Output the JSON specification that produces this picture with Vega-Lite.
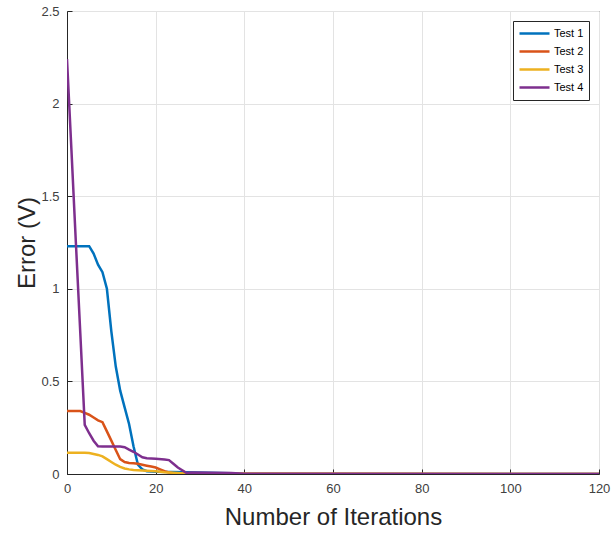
{
  "$schema": "https://vega.github.io/schema/vega-lite/v6.json",
  "width": 532,
  "height": 463,
  "autosize": {"type": "none"},
  "padding": {"left": 67, "top": 11, "right": 12, "bottom": 62},
  "background": "white",
  "config": {
    "font": "Liberation Sans",
    "view": {"stroke": "#262626", "strokeWidth": 1},
    "axis": {
      "domainColor": "#262626",
      "tickColor": "#262626",
      "gridColor": "#e3e3e3",
      "gridWidth": 1,
      "labelColor": "#404040",
      "labelFontSize": 13,
      "titleColor": "#262626",
      "titleFontSize": 24,
      "titleFontWeight": "normal",
      "tickSize": -5,
      "labelFlush": false,
      "labelOverlap": false
    }
  },
  "data": {
    "values": [
      {"iter": 0, "err": 1.23, "test": "Test 1"},
      {"iter": 1, "err": 1.23, "test": "Test 1"},
      {"iter": 2, "err": 1.23, "test": "Test 1"},
      {"iter": 3, "err": 1.23, "test": "Test 1"},
      {"iter": 4, "err": 1.23, "test": "Test 1"},
      {"iter": 5, "err": 1.23, "test": "Test 1"},
      {"iter": 6, "err": 1.19, "test": "Test 1"},
      {"iter": 7, "err": 1.13, "test": "Test 1"},
      {"iter": 8, "err": 1.09, "test": "Test 1"},
      {"iter": 9, "err": 1.0, "test": "Test 1"},
      {"iter": 10, "err": 0.77, "test": "Test 1"},
      {"iter": 11, "err": 0.58, "test": "Test 1"},
      {"iter": 12, "err": 0.45, "test": "Test 1"},
      {"iter": 13, "err": 0.36, "test": "Test 1"},
      {"iter": 14, "err": 0.27, "test": "Test 1"},
      {"iter": 15, "err": 0.15, "test": "Test 1"},
      {"iter": 16, "err": 0.05, "test": "Test 1"},
      {"iter": 17, "err": 0.025, "test": "Test 1"},
      {"iter": 18, "err": 0.015, "test": "Test 1"},
      {"iter": 20, "err": 0.012, "test": "Test 1"},
      {"iter": 27, "err": 0.01, "test": "Test 1"},
      {"iter": 37, "err": 0.004, "test": "Test 1"},
      {"iter": 40, "err": 0.0, "test": "Test 1"},
      {"iter": 120, "err": 0.0, "test": "Test 1"},

      {"iter": 0, "err": 0.34, "test": "Test 2"},
      {"iter": 1, "err": 0.34, "test": "Test 2"},
      {"iter": 2, "err": 0.34, "test": "Test 2"},
      {"iter": 3, "err": 0.34, "test": "Test 2"},
      {"iter": 4, "err": 0.33, "test": "Test 2"},
      {"iter": 5, "err": 0.32, "test": "Test 2"},
      {"iter": 6, "err": 0.305, "test": "Test 2"},
      {"iter": 7, "err": 0.29, "test": "Test 2"},
      {"iter": 8, "err": 0.28, "test": "Test 2"},
      {"iter": 9, "err": 0.23, "test": "Test 2"},
      {"iter": 10, "err": 0.18, "test": "Test 2"},
      {"iter": 11, "err": 0.13, "test": "Test 2"},
      {"iter": 12, "err": 0.08, "test": "Test 2"},
      {"iter": 13, "err": 0.065, "test": "Test 2"},
      {"iter": 14, "err": 0.06, "test": "Test 2"},
      {"iter": 15, "err": 0.058, "test": "Test 2"},
      {"iter": 16, "err": 0.055, "test": "Test 2"},
      {"iter": 17, "err": 0.05, "test": "Test 2"},
      {"iter": 18, "err": 0.045, "test": "Test 2"},
      {"iter": 19, "err": 0.04, "test": "Test 2"},
      {"iter": 20, "err": 0.035, "test": "Test 2"},
      {"iter": 21, "err": 0.025, "test": "Test 2"},
      {"iter": 22, "err": 0.015, "test": "Test 2"},
      {"iter": 23, "err": 0.008, "test": "Test 2"},
      {"iter": 24, "err": 0.004, "test": "Test 2"},
      {"iter": 26, "err": 0.001, "test": "Test 2"},
      {"iter": 120, "err": 0.0, "test": "Test 2"},

      {"iter": 0, "err": 0.115, "test": "Test 3"},
      {"iter": 1, "err": 0.115, "test": "Test 3"},
      {"iter": 2, "err": 0.115, "test": "Test 3"},
      {"iter": 3, "err": 0.115, "test": "Test 3"},
      {"iter": 4, "err": 0.115, "test": "Test 3"},
      {"iter": 5, "err": 0.113, "test": "Test 3"},
      {"iter": 6, "err": 0.108, "test": "Test 3"},
      {"iter": 7, "err": 0.103, "test": "Test 3"},
      {"iter": 8, "err": 0.095, "test": "Test 3"},
      {"iter": 9, "err": 0.08, "test": "Test 3"},
      {"iter": 10, "err": 0.065, "test": "Test 3"},
      {"iter": 11, "err": 0.05, "test": "Test 3"},
      {"iter": 12, "err": 0.038, "test": "Test 3"},
      {"iter": 13, "err": 0.03, "test": "Test 3"},
      {"iter": 14, "err": 0.025, "test": "Test 3"},
      {"iter": 15, "err": 0.022, "test": "Test 3"},
      {"iter": 16, "err": 0.02, "test": "Test 3"},
      {"iter": 18, "err": 0.017, "test": "Test 3"},
      {"iter": 20, "err": 0.015, "test": "Test 3"},
      {"iter": 22, "err": 0.01, "test": "Test 3"},
      {"iter": 25, "err": 0.005, "test": "Test 3"},
      {"iter": 27, "err": 0.001, "test": "Test 3"},
      {"iter": 120, "err": 0.0, "test": "Test 3"},

      {"iter": 0, "err": 2.24, "test": "Test 4"},
      {"iter": 1, "err": 1.75, "test": "Test 4"},
      {"iter": 2, "err": 1.25, "test": "Test 4"},
      {"iter": 3, "err": 0.76, "test": "Test 4"},
      {"iter": 4, "err": 0.265, "test": "Test 4"},
      {"iter": 5, "err": 0.22, "test": "Test 4"},
      {"iter": 6, "err": 0.18, "test": "Test 4"},
      {"iter": 7, "err": 0.15, "test": "Test 4"},
      {"iter": 8, "err": 0.148, "test": "Test 4"},
      {"iter": 10, "err": 0.148, "test": "Test 4"},
      {"iter": 12, "err": 0.148, "test": "Test 4"},
      {"iter": 13, "err": 0.145, "test": "Test 4"},
      {"iter": 14, "err": 0.132, "test": "Test 4"},
      {"iter": 15, "err": 0.12, "test": "Test 4"},
      {"iter": 16, "err": 0.105, "test": "Test 4"},
      {"iter": 17, "err": 0.09, "test": "Test 4"},
      {"iter": 18, "err": 0.085, "test": "Test 4"},
      {"iter": 20, "err": 0.082, "test": "Test 4"},
      {"iter": 22, "err": 0.078, "test": "Test 4"},
      {"iter": 23, "err": 0.075, "test": "Test 4"},
      {"iter": 24, "err": 0.055, "test": "Test 4"},
      {"iter": 25, "err": 0.035, "test": "Test 4"},
      {"iter": 26, "err": 0.02, "test": "Test 4"},
      {"iter": 27, "err": 0.005, "test": "Test 4"},
      {"iter": 28, "err": 0.008, "test": "Test 4"},
      {"iter": 37, "err": 0.005, "test": "Test 4"},
      {"iter": 40, "err": 0.001, "test": "Test 4"},
      {"iter": 120, "err": 0.0, "test": "Test 4"}
    ]
  },
  "mark": {"type": "line", "strokeWidth": 2.5, "clip": true},
  "encoding": {
    "x": {
      "field": "iter",
      "type": "quantitative",
      "title": "Number of Iterations",
      "scale": {"domain": [0, 120], "nice": false},
      "axis": {"values": [0, 20, 40, 60, 80, 100, 120], "format": "d", "labelPadding": 13, "titlePadding": 10}
    },
    "y": {
      "field": "err",
      "type": "quantitative",
      "title": "Error (V)",
      "scale": {"domain": [0, 2.5], "nice": false},
      "axis": {"values": [0, 0.5, 1, 1.5, 2, 2.5], "format": "~r", "labelPadding": 13, "titlePadding": 1}
    },
    "color": {
      "field": "test",
      "type": "nominal",
      "scale": {
        "domain": ["Test 1", "Test 2", "Test 3", "Test 4"],
        "range": ["#0072BD", "#D95319", "#EDB120", "#7E2F8E"]
      },
      "legend": {
        "title": null,
        "orient": "top-right",
        "offset": 10,
        "fillColor": "white",
        "strokeColor": "#262626",
        "padding": 5,
        "symbolType": "stroke",
        "symbolSize": 900,
        "symbolStrokeWidth": 2.5,
        "clipHeight": 15,
        "labelFontSize": 11,
        "labelColor": "#000000",
        "rowPadding": 3,
        "labelOffset": 3
      }
    }
  }
}
